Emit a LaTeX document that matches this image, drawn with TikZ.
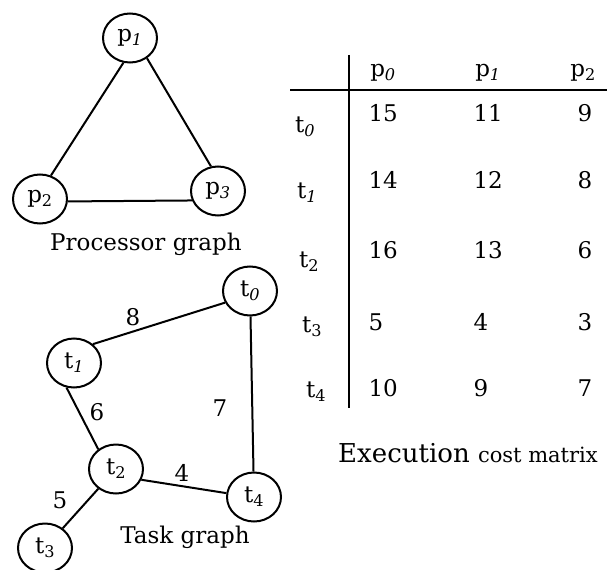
\documentclass[tikz,border=0pt]{standalone}
\usepackage{fontspec}
\setmainfont{DejaVu Serif}
\usetikzlibrary{shapes.geometric}

\begin{document}
\begin{tikzpicture}[x=1pt,y=-1pt,
  vertex/.style={draw,ellipse,line width=2pt,minimum width=54pt,minimum height=49pt,inner sep=0pt,font=\fontsize{23}{27}\selectfont},
  edge/.style={line width=2pt},
  lbl/.style={font=\fontsize{23}{27}\selectfont},
  val/.style={anchor=west,font=\fontsize{23}{27}\selectfont}]
\useasboundingbox (0,0) rectangle (609,569);

% processor graph
\node[vertex] (p1) at (130,38) {p\textsubscript{\textit{1}}};
\node[vertex] (p2) at (40,199) {p\textsubscript{2}};
\node[vertex] (p3) at (218,191) {p\textsubscript{\textit{3}}};

\draw[edge] (p1.255) -- (p2.65);
\draw[edge] (p1.310) -- (p3.106);
\draw[edge] (p2.355) -- (p3.200);

\node[lbl,anchor=base] (pg) at (146,250) {Processor graph};

% task graph
\node[vertex] (t0) at (250,291) {t\textsubscript{\textit{0}}};
\node[vertex] (t1) at (74,363) {t\textsubscript{\textit{1}}};
\node[vertex] (t2) at (116,469) {t\textsubscript{2}};
\node[vertex] (t3) at (45,548) {t\textsubscript{3}};
\node[vertex] (t4) at (254,497) {t\textsubscript{4}};

\draw[edge] (t1.45) -- (t0.205);
\draw[edge] (t0) -- (t4);
\draw[edge] (t1.253) -- (t2.132);
\draw[edge] (t2.337) -- (t4.172);
\draw[edge] (t2) -- (t3);

\node[lbl] (w8) at (133,317) {8};
\node[lbl] (w6) at (97,412) {6};
\node[lbl] (w7) at (220,408) {7};
\node[lbl] (w4) at (182,473) {4};
\node[lbl] (w5) at (60,500) {5};

\node[lbl,anchor=base] (tg) at (185,543) {Task graph};

% cost matrix
\coordinate (vtop) at (349,55);
\coordinate (vbot) at (349,408);
\coordinate (hleft) at (290,90);
\coordinate (hright) at (607,90);
\draw[line width=2.6pt] (vtop) -- (vbot);
\draw[line width=2pt] (hleft) -- (hright);

\node[lbl] (h0) at (383,73) {p\textsubscript{\textit{0}}};
\node[lbl] (h1) at (488,73) {p\textsubscript{\textit{1}}};
\node[lbl] (h2) at (583,73) {p\textsubscript{2}};

\node[lbl] (r0) at (305,127) {t\textsubscript{\textit{0}}};
\node[lbl] (r1) at (307,193) {t\textsubscript{\textit{1}}};
\node[lbl] (r2) at (309,262) {t\textsubscript{2}};
\node[lbl] (r3) at (312,327) {t\textsubscript{3}};
\node[lbl] (r4) at (316,392) {t\textsubscript{4}};

\node[val] (c00) at (365,113) {15};
\node[val] (c01) at (470,113) {11};
\node[val] (c02) at (574,113) {9};

\node[val] (c10) at (365,180) {14};
\node[val] (c11) at (470,180) {12};
\node[val] (c12) at (574,180) {8};

\node[val] (c20) at (365,250) {16};
\node[val] (c21) at (470,250) {13};
\node[val] (c22) at (574,250) {6};

\node[val] (c30) at (365,322) {5};
\node[val] (c31) at (470,322) {4};
\node[val] (c32) at (574,322) {3};

\node[val] (c40) at (365,388) {10};
\node[val] (c41) at (470,388) {9};
\node[val] (c42) at (574,388) {7};

\node[anchor=base] (cap) at (468,462) {\fontsize{26}{30}\selectfont Execution {\fontsize{21}{25}\selectfont cost matrix}};
\end{tikzpicture}
\end{document}
